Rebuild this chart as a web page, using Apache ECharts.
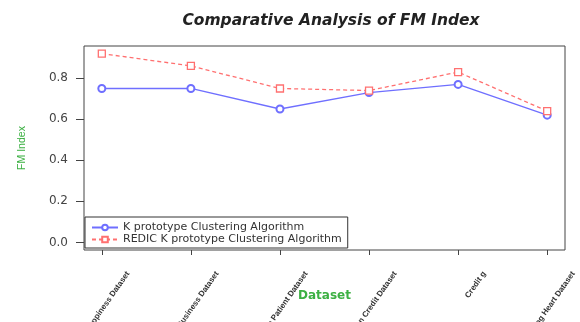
<!DOCTYPE html>
<html>
<head>
<meta charset="utf-8">
<script src="https://cdn.jsdelivr.net/npm/echarts@6/dist/echarts.min.js"></script>
<style>
  html, body { margin: 0; padding: 0; background: #fff; }
  #chart { width: 580px; height: 322px; }
</style>
</head>
<body>
<div id="chart"></div>
<script>
const datasets = ['Happiness Dataset', 'Business Dataset', 'Stroke Patient Dataset',
  'Australian Credit Dataset', 'Credit g', 'Statlog Heart Dataset'];
const kPrototype = [0.75, 0.75, 0.65, 0.73, 0.77, 0.62];
const redicKPrototype = [0.92, 0.86, 0.75, 0.74, 0.83, 0.64];
const yTicks = [0, 0.2, 0.4, 0.6, 0.8];
const xTicks = datasets.map((d, i) => i);

const chart = echarts.init(document.getElementById('chart'));
const font = 'Liberation Sans, Arial, sans-serif';
const wide = 'DejaVu Sans, sans-serif';

const option = {
  animation: false,
  title: {
    text: 'Comparative Analysis of FM Index',
    left: 326,
    textAlign: 'center',
    top: 8,
    textStyle: { fontSize: 15.5, fontWeight: 'bold', fontStyle: 'italic', color: '#222', fontFamily: wide }
  },
  legend: {
    orient: 'vertical',
    left: 85,
    top: 217,
    itemWidth: 26,
    itemHeight: 7,
    itemGap: 1,
    padding: [5, 6, 3, 6],
    borderColor: '#333',
    borderWidth: 1,
    borderRadius: 0,
    backgroundColor: '#fff',
    textStyle: { fontSize: 11, lineHeight: 11, color: '#333', fontFamily: wide },
    data: ['K prototype Clustering Algorithm', 'REDIC K prototype Clustering Algorithm']
  },
  grid: {
    left: 84, right: 15, top: 46, bottom: 72,
    outerBoundsMode: 'none',
    containLabel: false,
    show: true, borderColor: '#444', borderWidth: 1
  },
  xAxis: {
    type: 'value',
    min: -0.2,
    max: 5.2,
    name: 'Dataset',
    nameLocation: 'middle',
    nameGap: 40,
    nameMoveOverlap: false,
    nameTextStyle: { color: '#3cb043', fontSize: 12, fontWeight: 'bold', fontFamily: wide },
    axisLine: { show: false, onZero: false },
    splitLine: { show: false },
    axisTick: { show: true, inside: false, customValues: xTicks, length: 5, lineStyle: { color: '#444' } },
    axisLabel: {
      customValues: xTicks,
      rotate: 55,
      fontSize: 8,
      fontWeight: 'bold',
      color: '#333',
      margin: 4,
      verticalAlign: 'top',
      padding: [28, 0, 0, 0],
      hideOverlap: false,
      fontFamily: font,
      formatter: v => datasets[Math.round(v)]
    }
  },
  yAxis: {
    type: 'value',
    min: -0.037,
    max: 0.957,
    name: 'FM Index',
    nameLocation: 'middle',
    nameGap: 56,
    nameMoveOverlap: false,
    nameTextStyle: { color: '#3cb043', fontSize: 10.5, fontFamily: font },
    axisLine: { show: false, onZero: false },
    splitLine: { show: false },
    axisTick: { show: true, inside: false, customValues: yTicks, length: 8, lineStyle: { color: '#444' } },
    axisLabel: {
      customValues: yTicks,
      fontSize: 12,
      color: '#444',
      margin: 16,
      fontFamily: wide,
      formatter: v => v.toFixed(1)
    }
  },
  series: [
    {
      name: 'K prototype Clustering Algorithm',
      type: 'line',
      data: kPrototype.map((v, i) => [i, v]),
      symbol: 'emptyCircle',
      symbolSize: 7,
      lineStyle: { color: '#6f6fff', width: 1.3 },
      itemStyle: { color: '#6f6fff', borderWidth: 1.3 }
    },
    {
      name: 'REDIC K prototype Clustering Algorithm',
      type: 'line',
      data: redicKPrototype.map((v, i) => [i, v]),
      symbol: 'rect',
      symbolSize: 7,
      lineStyle: { color: '#ff7070', width: 1.3, type: [4, 3] },
      itemStyle: { color: '#fff', borderColor: '#ff7070', borderWidth: 1.3 }
    }
  ]
};

chart.setOption(option);
</script>
</body>
</html>
